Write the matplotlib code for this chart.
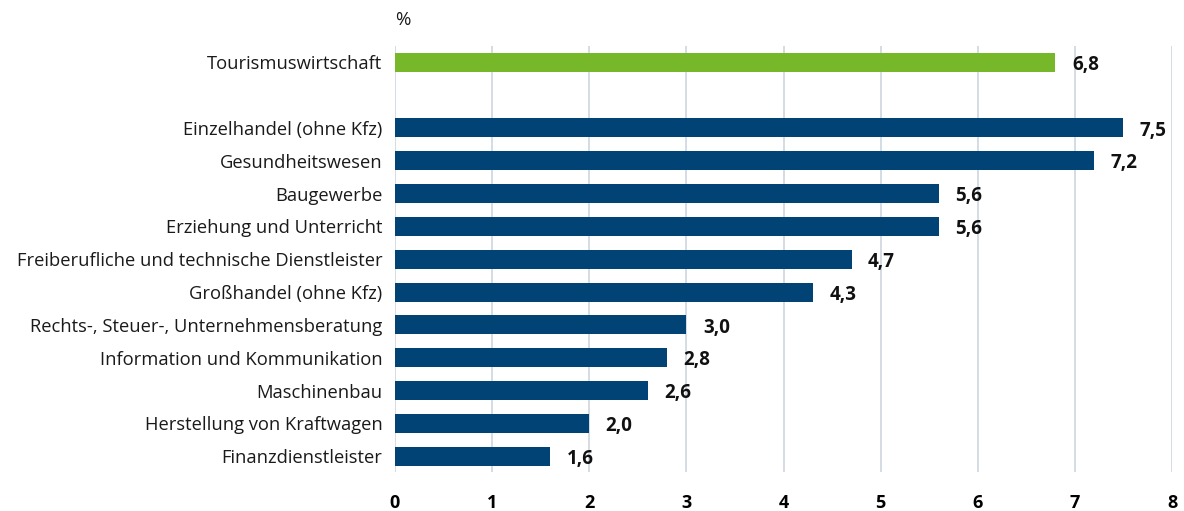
import numpy as np
import matplotlib.pyplot as plt

plt.rcParams['font.family'] = ['Open Sans', 'DejaVu Sans']

# data
top_label = "Tourismuswirtschaft"
top_value = 6.8
branchen = ["Einzelhandel (ohne Kfz)", "Gesundheitswesen", "Baugewerbe",
            "Erziehung und Unterricht",
            "Freiberufliche und technische Dienstleister",
            "Großhandel (ohne Kfz)", "Rechts-, Steuer-, Unternehmensberatung",
            "Information und Kommunikation", "Maschinenbau",
            "Herstellung von Kraftwagen", "Finanzdienstleister"]
werte = [7.5, 7.2, 5.6, 5.6, 4.7, 4.3, 3.0, 2.8, 2.6, 2.0, 1.6]
xticks = [0, 1, 2, 3, 4, 5, 6, 7, 8]

green = '#76b82a'
blue = '#004374'
grid_col = '#cdd6df'

fig = plt.figure(figsize=(11.84, 5.11), dpi=100)
ax = fig.add_axes([0.3336, 0.0763, 0.6563, 0.834])

# positions: tourism on top, then one empty slot, then the rest
n = len(branchen)
pos = np.arange(n)[::-1].astype(float)
top_pos = n + 1

ax.barh(top_pos, top_value, height=0.58, color=green, zorder=3)
ax.barh(pos, werte, height=0.58, color=blue, zorder=3)

def fmt(v):
    return f"{v:.1f}".replace('.', ',')

ax.text(top_value + 0.17, top_pos - 0.08, fmt(top_value), va='center', ha='left',
        fontsize=13.5, fontweight='bold', color='#111111')
for p, v in zip(pos, werte):
    ax.text(v + 0.17, p - 0.08, fmt(v), va='center', ha='left',
            fontsize=13.5, fontweight='bold', color='#111111')

ax.set_yticks(list(pos) + [top_pos])
ax.set_yticklabels(branchen + [top_label], fontsize=13.2, color='#1a1a1a')
ax.set_ylim(-0.48, top_pos + 0.5)

ax.set_xlim(0, 8)
ax.set_xticks(xticks)
ax.set_xticklabels([str(t) for t in xticks], fontsize=13, fontweight='bold')
ax.tick_params(axis='both', length=0)
ax.tick_params(axis='x', pad=16)
ax.tick_params(axis='y', pad=9)

ax.grid(axis='x', color=grid_col, linewidth=1.2, zorder=0)
for s in ax.spines.values():
    s.set_visible(False)

ax.text(0, 1.04, '%', transform=ax.transAxes, fontsize=13.5, ha='left',
        va='bottom', color='#1a1a1a')

fig.savefig('out.png', dpi=100)
